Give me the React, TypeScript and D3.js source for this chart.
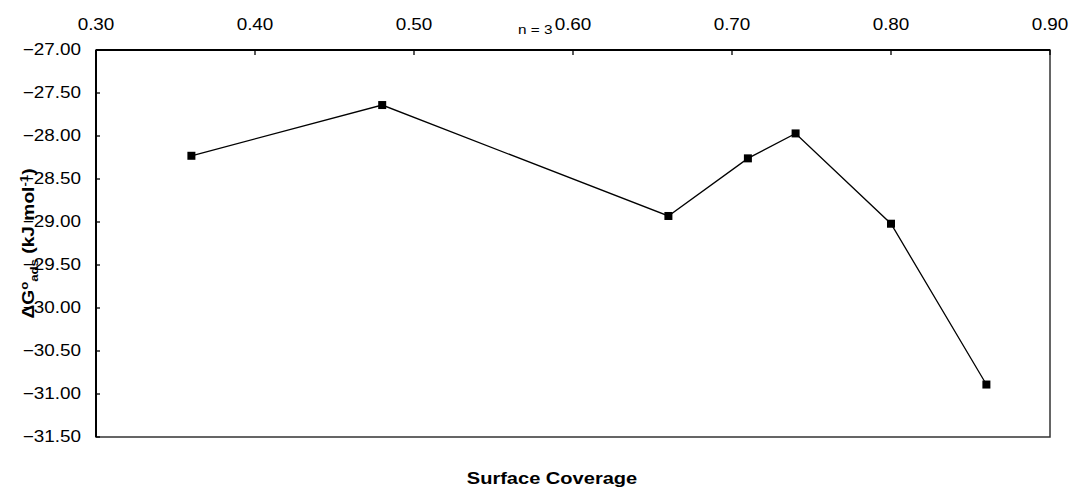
import React from 'react';
import * as d3 from 'd3';

// surface coverage (theta) vs. free energy of adsorption
const coverage = [0.36, 0.48, 0.66, 0.71, 0.74, 0.80, 0.86];
const deltaG = [-28.23, -27.64, -28.93, -28.26, -27.97, -29.02, -30.89];

const xTicks = [0.3, 0.4, 0.5, 0.6, 0.7, 0.8, 0.9];
const yTicks = [-27, -27.5, -28, -28.5, -29, -29.5, -30, -30.5, -31, -31.5];

const W = 1071;
const H = 487;
const font = "'Liberation Sans', Arial, Helvetica, sans-serif";
const stretch = 1.18;

const App = () => {
  const left = 96;
  const right = 1050;
  const top = 50;
  const bottom = 437;

  const x = d3.scaleLinear().domain([0.3, 0.9]).range([left, right]);
  const y = d3.scaleLinear().domain([-27, -31.5]).range([top, bottom]);

  const pts = coverage.map((c, i) => ({ c, g: deltaG[i] }));
  const line = d3.line<{ c: number; g: number }>()
    .x(d => x(d.c))
    .y(d => y(d.g));

  return (
    <svg width={W} height={H} style={{ position: 'absolute', left: 0, top: 0, background: '#fff' }}
      fontFamily={font}>
      {/* plot frame */}
      <rect x={left} y={top} width={right - left} height={bottom - top}
        fill="#fff" stroke="#333" strokeWidth={1.5} />
      <line x1={left} x2={left} y1={top} y2={bottom} stroke="#000" strokeWidth={2} />
      <line x1={left} x2={right} y1={top} y2={top} stroke="#000" strokeWidth={2} />

      {/* y axis */}
      {yTicks.map(t => (
        <g key={'y' + t}>
          <line x1={left} x2={left + 4} y1={y(t)} y2={y(t)} stroke="#000" strokeWidth={1.3} />
          <text transform={`translate(${left - 15},${y(t)}) scale(${stretch},1)`}
            textAnchor="end" dominantBaseline="central" fontSize={16} fill="#000">
            {d3.format('.2f')(t)}
          </text>
        </g>
      ))}

      {/* x axis on top */}
      {xTicks.map(t => (
        <g key={'x' + t}>
          <line x1={x(t)} x2={x(t)} y1={top} y2={top + 5} stroke="#000" strokeWidth={1.3} />
          <text transform={`translate(${x(t)},30) scale(${stretch},1)`}
            textAnchor="middle" fontSize={16} fill="#000">
            {d3.format('.2f')(t)}
          </text>
        </g>
      ))}

      <text transform={`translate(518,34) scale(${stretch},1)`} fontSize={13} fill="#000">n = 3</text>

      {/* series */}
      <path d={line(pts) || ''} fill="none" stroke="#000" strokeWidth={1.3} />
      {pts.map((d, i) => (
        <rect key={i} x={x(d.c) - 4} y={y(d.g) - 4} width={8} height={8} fill="#000" />
      ))}

      {/* titles */}
      <text transform={`translate(552,484) scale(${stretch},1)`} textAnchor="middle"
        fontSize={17} fontWeight="bold" fill="#000">Surface Coverage</text>

      <text transform={`translate(34,${(top + bottom) / 2}) rotate(-90) scale(1.2,1)`}
        textAnchor="middle" fontSize={16} fontWeight="bold" fill="#000">
        <tspan>ΔG</tspan>
        <tspan fontSize={11} dy={-6}>o</tspan>
        <tspan fontSize={11} dy={10}>ads</tspan>
        <tspan dy={-4}> (kJ mol</tspan>
        <tspan fontSize={11} dy={-6}>-1</tspan>
        <tspan dy={6}>)</tspan>
      </text>
    </svg>
  );
};

export default App;
